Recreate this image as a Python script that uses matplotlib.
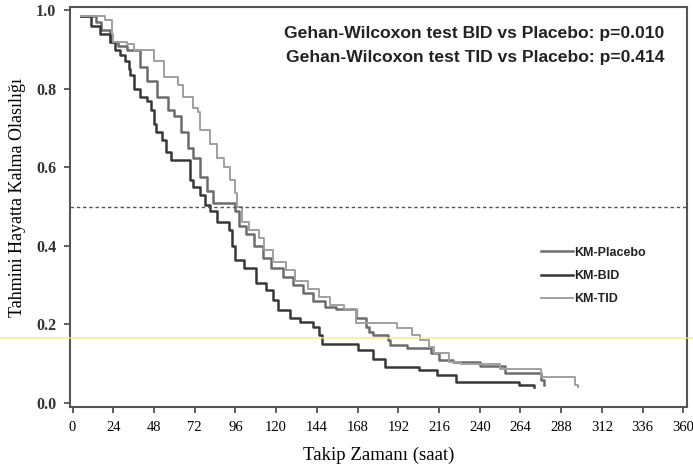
import numpy as np
import matplotlib
matplotlib.use("Agg")
import matplotlib.pyplot as plt
from matplotlib.lines import Line2D

# Kaplan-Meier basamaklari (saat, sagkalim)
placebo_t = [5, 14, 17, 22, 27, 32, 40, 44, 50, 56, 60, 64, 68, 71, 75, 79, 83, 96,
             98, 102, 107, 112, 117, 124, 130, 136, 142, 149, 155, 167, 173, 175, 177,
             186, 187, 197, 211, 216, 224, 240, 255, 276, 278]
placebo_s = [0.985, 0.97, 0.95, 0.92, 0.91, 0.90, 0.855, 0.82, 0.78, 0.745, 0.73, 0.69,
             0.65, 0.625, 0.575, 0.54, 0.51, 0.49, 0.45, 0.43, 0.40, 0.37, 0.345, 0.32,
             0.30, 0.28, 0.26, 0.245, 0.24, 0.216, 0.193, 0.18, 0.173, 0.16, 0.148, 0.14,
             0.127, 0.11, 0.104, 0.094, 0.076, 0.058, 0.046]

bid_t = [5, 11, 16, 22, 25, 28, 31, 33, 34, 36, 40, 44, 46, 48, 49, 53, 55, 58, 69, 71,
         75, 78, 81, 85, 92, 94, 96, 101, 108, 114, 118, 121, 128, 134, 142, 145, 147,
         168, 177, 184, 204, 215, 226, 263, 272]
bid_s = [0.985, 0.96, 0.94, 0.92, 0.90, 0.885, 0.87, 0.85, 0.835, 0.80, 0.78, 0.77,
         0.745, 0.71, 0.69, 0.67, 0.64, 0.62, 0.567, 0.55, 0.53, 0.505, 0.49, 0.46, 0.44,
         0.40, 0.364, 0.343, 0.305, 0.287, 0.262, 0.237, 0.216, 0.206, 0.193, 0.173,
         0.15, 0.135, 0.112, 0.092, 0.084, 0.071, 0.053, 0.046, 0.04]

tid_t = [5, 19, 23, 24, 32, 36, 48, 54, 62, 65, 71, 74, 75, 81, 85, 89, 93, 96, 97, 100,
         104, 110, 113, 118, 126, 131, 139, 145, 152, 160, 167, 191, 200, 205, 210, 213,
         222, 229, 252, 276, 296, 298]
tid_s = [0.985, 0.975, 0.94, 0.92, 0.915, 0.90, 0.87, 0.83, 0.81, 0.78, 0.75, 0.74,
         0.695, 0.66, 0.625, 0.60, 0.567, 0.534, 0.50, 0.46, 0.44, 0.42, 0.39, 0.36, 0.34,
         0.31, 0.29, 0.27, 0.25, 0.24, 0.204, 0.19, 0.173, 0.16, 0.142, 0.127, 0.104,
         0.10, 0.087, 0.066, 0.046, 0.04]

x_ticks = list(range(0, 361, 24))
y_ticks = [0.0, 0.2, 0.4, 0.6, 0.8, 1.0]

fig = plt.figure(figsize=(6.93, 4.76), dpi=100)
ax = fig.add_axes([0.101, 0.145, 0.890, 0.840])

ax.step(placebo_t, placebo_s, where="post", color="#6c6c6c", lw=1.8, label="KM-Placebo")
ax.step(bid_t, bid_s, where="post", color="#383838", lw=1.8, label="KM-BID")
ax.step(tid_t, tid_s, where="post", color="#a0a0a0", lw=1.4, label="KM-TID")

ax.axhline(0.5, color="#555555", lw=1.0, ls=(0, (2.5, 2)))

ax.set_xlim(-1.5, 362)
ax.set_ylim(-0.01, 1.008)
ax.set_xticks(x_ticks)
ax.set_yticks(y_ticks)
ax.set_xticklabels([str(t) for t in x_ticks], family="Liberation Serif", fontsize=10.5)
ax.set_yticklabels(["%.1f" % v for v in y_ticks], family="Liberation Serif",
                   fontsize=11.5, fontweight="bold", color="#333333")
ax.tick_params(direction="out", length=4, width=1.2, color="#444444", pad=6)

for s in ax.spines.values():
    s.set_color("#555555")
    s.set_linewidth(1.5)

ax.set_xlabel("Takip Zamanı (saat)", family="Liberation Serif", fontsize=13.5, labelpad=9)
ax.set_ylabel("Tahmini Hayatta Kalma Olasılığı", family="Liberation Serif",
              fontsize=13, labelpad=7)
ax.yaxis.set_label_coords(-0.071, 0.525)

ax.text(0.964, 0.935, "Gehan-Wilcoxon test BID vs Placebo: p=0.010", transform=ax.transAxes,
        ha="right", va="center", family="Liberation Sans", fontweight="bold",
        fontsize=12.6, color="#222222")
ax.text(0.964, 0.875, "Gehan-Wilcoxon test TID vs Placebo: p=0.414", transform=ax.transAxes,
        ha="right", va="center", family="Liberation Sans", fontweight="bold",
        fontsize=12.6, color="#222222")

leg = ax.legend(loc="center left", bbox_to_anchor=(0.745, 0.3275), frameon=False,
                prop={"family": "Liberation Sans", "weight": "bold", "size": 9},
                handlelength=2.6, handletextpad=0.1, labelspacing=0.9)
for t in leg.get_texts():
    t.set_color("#222222")

# tarama izi: soluk sari cizgi
fig.add_artist(Line2D([0, 1], [0.29, 0.29], color="#f2e88a", lw=1.2, alpha=0.8,
                      transform=fig.transFigure))

fig.savefig("out.png", dpi=100)
